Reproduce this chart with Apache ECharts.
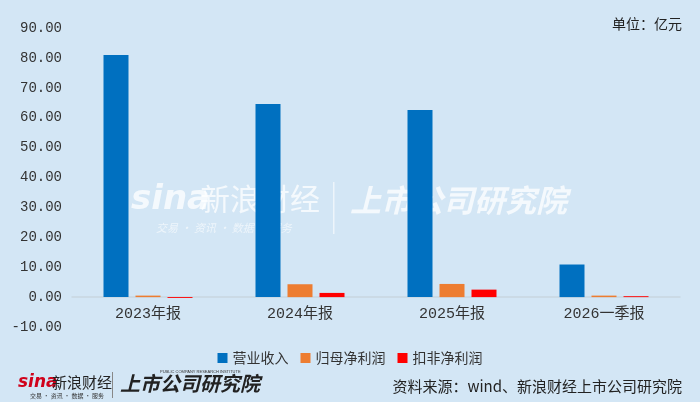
<!DOCTYPE html>
<html><head><meta charset="utf-8">
<script src="https://cdn.jsdelivr.net/npm/echarts@6/dist/echarts.min.js"></script>
<style>html,body{margin:0;padding:0;background:#D3E6F5;}#c{width:700px;height:402px;}</style>
</head><body><div id="c"></div>
<script>
var categories = ['2023年报', '2024年报', '2025年报', '2026一季报'];
var revenue = [81.0, 64.6, 62.6, 10.9];
var netProfit = [0.5, 4.3, 4.4, 0.5];
var deductedProfit = [-0.3, 1.4, 2.5, 0.3];
var yTicks = { min: -10, max: 90, interval: 10 };

var chart = echarts.init(document.getElementById('c'));
var numFont = '"Liberation Mono", "Noto Sans CJK SC", monospace';
var cjk = '"Noto Sans CJK SC", sans-serif';
chart.setOption({
  backgroundColor: '#D3E6F5',
  animation: false,
  grid: { left: 72, right: 20, top: 28, bottom: 75 },
  graphic: [
    { type: 'text', left: 612, top: 17, z: 10, style: { text: '单位：亿元', font: '14px ' + cjk, fill: '#222' } },
    { type: 'text', right: 18, top: 379, z: 10, style: { text: '资料来源：wind、新浪财经上市公司研究院', font: '15px ' + cjk, fill: '#222' } },
    { type: 'text', left: 131, top: 183, z: 0, style: { text: 'sina', font: 'italic bold 34px "DejaVu Sans"', fill: 'rgba(255,255,255,0.75)' } },
    { type: 'text', left: 200, top: 184, z: 0, style: { text: '新浪财经', font: '30px ' + cjk, fill: 'rgba(255,255,255,0.75)' } },
    { type: 'text', left: 156, top: 222, z: 0, style: { text: '交易 · 资讯 · 数据 · 服务', font: 'italic 11px ' + cjk, fill: 'rgba(255,255,255,0.6)' } },
    { type: 'rect', left: 333, top: 182, z: 0, shape: { width: 1.5, height: 52 }, style: { fill: 'rgba(255,255,255,0.6)' } },
    { type: 'text', left: 350, top: 185, z: 0, style: { text: '上市公司研究院', font: 'italic bold 31px ' + cjk, fill: 'rgba(255,255,255,0.75)' } },
    { type: 'text', left: 18, top: 374, z: 10, style: { text: 'sina', font: 'italic bold 17px "DejaVu Sans"', fill: '#D0021B' } },
    { type: 'text', left: 52, top: 375, z: 10, style: { text: '新浪财经', font: '15px ' + cjk, fill: '#222' } },
    { type: 'text', left: 30, top: 393, z: 10, style: { text: '交易 · 资讯 · 数据 · 服务', font: '6px ' + cjk, fill: '#333' } },
    { type: 'rect', left: 112, top: 372, z: 10, shape: { width: 1, height: 26 }, style: { fill: '#888' } },
    { type: 'text', left: 120, top: 373, z: 10, style: { text: '上市公司研究院', font: 'italic bold 20px ' + cjk, fill: '#222' } },
    { type: 'text', left: 160, top: 370, z: 10, style: { text: 'PUBLIC COMPANY RESEARCH INSTITUTE', font: '4px sans-serif', fill: '#333' } }
  ],
  legend: {
    top: 346, left: 'center', itemWidth: 10, itemHeight: 10, itemGap: 12,
    icon: 'rect',
    textStyle: { fontSize: 14, color: '#333', fontFamily: cjk },
    data: ['营业收入', '归母净利润', '扣非净利润']
  },
  xAxis: {
    type: 'category', data: categories,
    axisLine: { onZero: true, lineStyle: { color: '#C9D6E0', width: 1.5 } },
    axisTick: { show: false },
    axisLabel: { fontSize: 15, color: '#333', margin: -20, fontFamily: numFont }
  },
  yAxis: {
    type: 'value', min: yTicks.min, max: yTicks.max, interval: yTicks.interval,
    axisLine: { show: false }, axisTick: { show: false }, splitLine: { show: false },
    axisLabel: { fontSize: 14, color: '#333', margin: 10, fontFamily: numFont,
      formatter: function (v) { return v.toFixed(2); } }
  },
  series: [
    { name: '营业收入', type: 'bar', data: revenue, barWidth: 25, barGap: '28%', barCategoryGap: '41%', itemStyle: { color: '#0070C0' } },
    { name: '归母净利润', type: 'bar', data: netProfit, barWidth: 25, itemStyle: { color: '#ED7D31' } },
    { name: '扣非净利润', type: 'bar', data: deductedProfit, barWidth: 25, itemStyle: { color: '#FF0000' } }
  ]
});
</script></body></html>
